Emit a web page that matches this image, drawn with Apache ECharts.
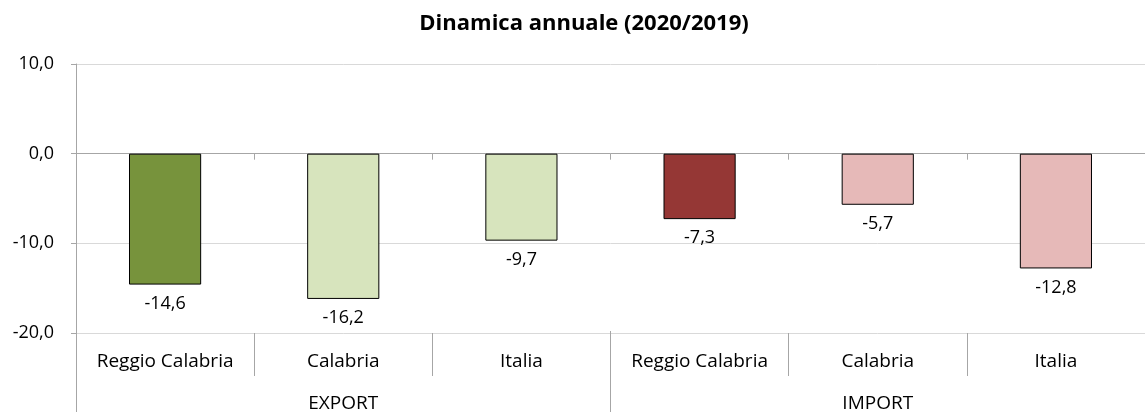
<!DOCTYPE html>
<html><head><meta charset="utf-8">
<script src="https://cdn.jsdelivr.net/npm/echarts@6/dist/echarts.min.js"></script>
<style>html,body{margin:0;padding:0;background:#fff;}#c{width:1145px;height:414px;}</style>
</head><body><div id="c"></div>
<script>
const categories = ['Reggio Calabria','Calabria','Italia','Reggio Calabria','Calabria','Italia'];
const groups = ['EXPORT','IMPORT'];
const values = [-14.6, -16.2, -9.7, -7.3, -5.7, -12.8];
const barColors = ['#77933C','#D7E4BD','#D7E4BD','#953735','#E6B9B8','#E6B9B8'];
const yTicks = {min: -20, max: 10, interval: 10};
const title = 'Dinamica annuale (2020/2019)';

const FONT = 'Open Sans';
const fmt = v => v.toFixed(1).replace('.', ',');
const G = {left: 76, top: 64, width: 1076, height: 269};
const chart = echarts.init(document.getElementById('c'));
chart.setOption({
  animation: false,
  title: {text: title, left: 579, top: 8, textAlign: 'center',
    textStyle: {fontFamily: FONT, fontWeight: 'bold', fontSize: 22, color: '#000'}},
  grid: [Object.assign({}, G), Object.assign({}, G), Object.assign({}, G)],
  xAxis: [
    {gridIndex: 0, type: 'category', data: categories, position: 'bottom',
      axisLine: {onZero: true, lineStyle: {color: '#A6A6A6', width: 1}},
      axisTick: {show: true, length: 6, lineStyle: {color: '#A6A6A6'}},
      axisLabel: {show: false}, splitLine: {show: false}},
    {gridIndex: 1, type: 'category', data: categories, position: 'bottom',
      axisLine: {show: false, onZero: false},
      axisTick: {show: true, length: 43, lineStyle: {color: '#A6A6A6'}},
      axisLabel: {margin: 19, fontFamily: FONT, fontSize: 19, color: '#000', lineHeight: 20, interval: 0}},
    {gridIndex: 2, type: 'category', data: groups, position: 'bottom',
      axisLine: {show: false, onZero: false},
      axisTick: {show: true, length: 81, lineStyle: {color: '#A6A6A6'}},
      axisLabel: {margin: 63, fontFamily: FONT, fontSize: 19, color: '#000', lineHeight: 20, interval: 0}}
  ],
  yAxis: [
    {gridIndex: 0, type: 'value', min: yTicks.min, max: yTicks.max, interval: yTicks.interval,
      axisLine: {show: true, lineStyle: {color: '#A6A6A6'}},
      axisTick: {show: true, length: 5, lineStyle: {color: '#A6A6A6'}},
      splitLine: {show: true, lineStyle: {color: '#D9D9D9', width: 1}},
      axisLabel: {formatter: fmt, margin: 22, fontFamily: FONT, fontSize: 18, color: '#000'}},
    {gridIndex: 1, type: 'value', min: yTicks.min, max: yTicks.max, show: false},
    {gridIndex: 2, type: 'value', min: yTicks.min, max: yTicks.max, show: false}
  ],
  series: [{
    type: 'bar', xAxisIndex: 0, yAxisIndex: 0, barWidth: '40.5%',
    data: values.map((v, i) => ({value: v, itemStyle: {color: barColors[i]}})),
    itemStyle: {borderColor: '#000', borderWidth: 1},
    label: {show: true, position: 'bottom', distance: 10, formatter: p => fmt(p.value),
      fontFamily: FONT, fontSize: 18, color: '#000'}
  }]
});
</script></body></html>
